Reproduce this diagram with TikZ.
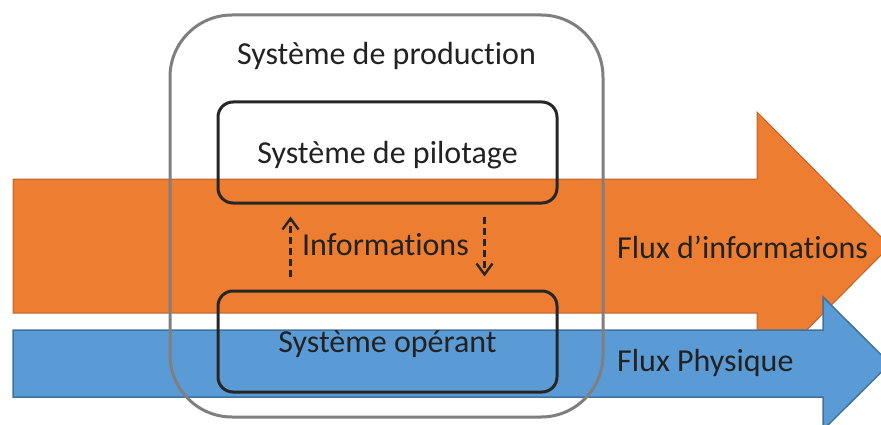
\documentclass[tikz,border=0pt]{standalone}
\usepackage{fontspec}
\setmainfont[Ligatures=NoCommon]{Carlito}
\usepackage{tikz}
\usetikzlibrary{arrows.meta,positioning}

\definecolor{fluxorange}{HTML}{ED7D31}
\definecolor{fluxorangeline}{HTML}{C0622A}
\definecolor{fluxblue}{HTML}{5B9BD5}
\definecolor{fluxblueline}{HTML}{41719C}
\definecolor{boxgray}{HTML}{7F7F7F}
\definecolor{textdark}{HTML}{222222}

\begin{document}
\begin{tikzpicture}[
    x=1pt, y=-1pt,
    font=\fontsize{32}{38}\selectfont,
    text=textdark,
    >={Straight Barb[length=11pt,width=16pt,line width=2.4pt]},
    system/.style={
		rectangle,
		rounded corners=15pt,
		draw=black!85,
		line width=3pt,
		text centered,
		text depth=0pt,
		minimum width=339pt,
		minimum height=101pt
	},
	production/.style={
		rectangle,
		rounded corners=62pt,
		draw=boxgray,
		line width=3pt,
		minimum width=433pt,
		minimum height=402pt
	},
	info/.style={
		->,
		draw=black!85,
		line width=2.4pt,
		dash pattern=on 7pt off 4pt
	},
	fluxlabel/.style={
		anchor=west,
		inner sep=0pt
	}
  ]
  \useasboundingbox (0,0) rectangle (881,425);

  % the two flows behind the blocks
  \fill [fluxorange, draw=fluxorangeline, line width=1pt]
    (13,179) -- (757,179) -- (757,112) -- (890,246) -- (757,380) -- (757,313) -- (13,313) -- cycle;
  \fill [fluxblue, draw=fluxblueline, line width=1.5pt]
    (13,330) -- (823,330) -- (823,297) -- (890,363.5) -- (823,430) -- (823,397) -- (13,397) -- cycle;

  \node [fluxlabel] (fluxinfo) at (617,247) {Flux d’informations};
  \node [fluxlabel] (fluxphys) at (617,363) {Flux Physique};

  % We start by placing the blocks
  \node [production] (production) at (386.5,216) {};
  \node (titre) at (386.5,56) {Système de production};

  \node [system] (pilotage) at (387.5,152.5) {Système de pilotage};
  \node [system, below=85pt of pilotage] (operant) {Système opérant};

  \node (infos) at (385.5,245) {Informations};

  \draw [info] ([xshift=74pt,yshift=13pt]operant.north west) -- ([xshift=74pt,yshift=-12pt]pilotage.south west);
  \draw [info] ([xshift=-74pt,yshift=-12pt]pilotage.south east) -- ([xshift=-74pt,yshift=13pt]operant.north east);

\end{tikzpicture}
\end{document}
